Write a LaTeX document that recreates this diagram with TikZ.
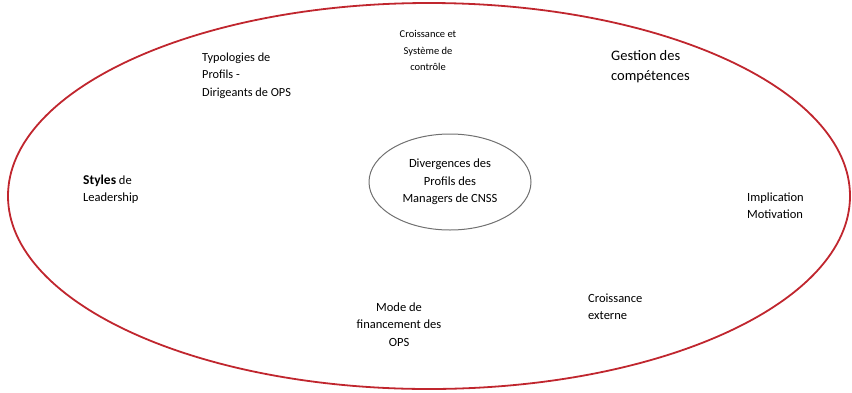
\documentclass[tikz,border=0pt]{standalone}
\usepackage{fontspec}
\setmainfont{Carlito}
\usetikzlibrary{shapes.geometric}
\definecolor{outerred}{HTML}{C0262E}
\definecolor{innergray}{HTML}{707070}
\tikzset{
  lbl/.style={inner sep=0pt, text=black},
  lblL/.style={lbl, anchor=west, align=left},
  lblC/.style={lbl, anchor=center, align=center},
}
\begin{document}
\begin{tikzpicture}[x=1pt,y=-1pt]
\useasboundingbox (0,0) rectangle (852,392);
\node[draw=outerred, line width=1.8pt, ellipse, inner sep=0pt,
      minimum width=842pt, minimum height=386pt] (outer) at (429,196) {};
\node[draw=innergray, line width=1pt, ellipse, inner sep=0pt,
      minimum width=162pt, minimum height=96pt, align=center,
      font=\fontsize{12.5}{17.5}\selectfont] (center) at (450,182)
      {Divergences des\\Profils des\\Managers de CNSS};
\node[lblC, font=\fontsize{10.5}{16.5}\selectfont] (croiss) at (428,50.5)
      {Croissance et\\Système de\\contrôle};
\node[lblL, font=\fontsize{12.3}{17.5}\selectfont] (typo) at (202,75.5)
      {Typologies de\\Profils -\\Dirigeants de OPS};
\node[lblL, font=\fontsize{14.5}{20}\selectfont] (gest) at (611,67)
      {Gestion des\\compétences};
\node[lblL, font=\fontsize{12.5}{17}\selectfont] (styles) at (83,189.5)
      {{\fontsize{13.5}{17}\selectfont\bfseries Styles} de\\Leadership};
\node[lblL, font=\fontsize{12.5}{17}\selectfont] (impl) at (747,205.5)
      {Implication\\Motivation};
\node[lblC, font=\fontsize{12.5}{17.5}\selectfont] (mode) at (399,324.5)
      {Mode de\\financement des\\OPS};
\node[lblL, font=\fontsize{12.5}{17}\selectfont] (ext) at (588,306.5)
      {Croissance\\externe};
\end{tikzpicture}
\end{document}
